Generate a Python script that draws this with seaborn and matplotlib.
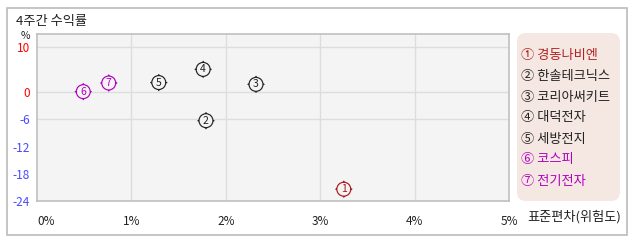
import numpy as np
import pandas as pd
import matplotlib
matplotlib.use("Agg")
import matplotlib.pyplot as plt
import seaborn as sns
from matplotlib.path import Path
from matplotlib.patches import FancyBboxPatch, Rectangle

# ---- data ----
names = ["경동나비엔", "한솔테크닉스", "코리아써키트", "대덕전자", "세방전지", "코스피", "전기전자"]
circled = ["①", "②", "③", "④", "⑤", "⑥", "⑦"]
risk = [3.25, 1.79, 2.32, 1.76, 1.29, 0.49, 0.76]      # 표준편차 (%)
ret = [-21.4, -6.3, 1.7, 5.0, 2.1, 0.1, 2.0]            # 4주간 수익률 (%)
colors = ["#A81818", "#222222", "#222222", "#222222", "#222222", "#B000C0", "#B000C0"]
xticks = [0, 1, 2, 3, 4, 5]
xticklabels = ["0%", "1%", "2%", "3%", "4%", "5%"]
yticks = [-24, -18, -12, -6, 0, 10]
yticklabels = ["-24", "-18", "-12", "-6", "0", "10"]

df = pd.DataFrame({"name": names, "risk": risk, "ret": ret})

sns.set_style("white")
plt.rcParams["font.family"] = ["Noto Sans CJK KR", "DejaVu Sans"]

W, H = 638, 242
fig = plt.figure(figsize=(W / 100, H / 100), dpi=100)

def fx(px):
    return px / W

def fy(py):
    return 1 - py / H

# outer frame
fig.patches.append(Rectangle((fx(6.5), fy(235)), fx(627) - fx(6.5), fy(7.5) - fy(235),
                             transform=fig.transFigure, fill=False,
                             edgecolor="#BBBBBB", linewidth=1.2))

ax = fig.add_axes([fx(37), fy(201), fx(509) - fx(37), fy(34) - fy(201)])
ax.set_facecolor("#F4F4F4")
ax.set_xlim(0, 5)
ax.set_ylim(-24, 12.8)

for v in [10, 0, -6]:
    ax.axhline(v, color="#DDDDDD", lw=1.0, zorder=0.5)
for v in [1, 2, 3, 4]:
    ax.axvline(v, color="#DDDDDD", lw=1.0, zorder=0.5)

# marker: circle with four short ticks
circle = Path.unit_circle()
ticks = Path([(0, 1), (0, 1.22), (0, -1), (0, -1.22), (1, 0), (1.22, 0), (-1, 0), (-1.22, 0)],
             [Path.MOVETO, Path.LINETO] * 4)
marker = Path.make_compound_path(circle, ticks)

palette = dict(zip(names, colors))
sns.scatterplot(data=df, x="risk", y="ret", hue="name", palette=palette,
                marker=marker, s=150, linewidth=0.85, legend=False, ax=ax, zorder=3)
coll = ax.collections[0]
fc = coll.get_facecolors()
coll.set_edgecolors(fc)
coll.set_facecolors("#F4F4F4")

for i, (x, y) in enumerate(zip(risk, ret)):
    ax.text(x, y, str(i + 1), ha="center", va="center", fontsize=7.5,
            color=colors[i], zorder=4)

ax.set_xlabel("")
ax.set_ylabel("")
ax.set_xticks(xticks)
ax.set_xticklabels(xticklabels, fontsize=8.5, color="#222222")
ax.set_yticks(yticks)
ax.set_yticklabels(yticklabels, fontsize=8.5)
ax.tick_params(axis="x", length=0, pad=10)
ax.tick_params(axis="y", length=0, pad=5)
ax.get_xticklabels()[0].set_ha("left")
for lab, v in zip(ax.get_yticklabels(), yticks):
    lab.set_color("#FF0000" if v >= 0 else "#4848FF")
for sp in ax.spines.values():
    sp.set_color("#BBBBBB")
    sp.set_linewidth(1.1)

# texts
fig.text(fx(16), fy(21), "4주간 수익률", fontsize=9.5, color="#222222", ha="left", va="center")
fig.text(fx(25), fy(36), "%", fontsize=7.5, color="#222222", ha="center", va="center")
fig.text(fx(621), fy(217), "표준편차(위험도)", fontsize=9.5, color="#222222", ha="right", va="center")

# legend panel
fig.patches.append(FancyBboxPatch((fx(517), fy(201)), fx(620) - fx(517), fy(33) - fy(201),
                                  boxstyle="round,pad=0,rounding_size=0.014",
                                  transform=fig.transFigure, facecolor="#F5E8E2",
                                  edgecolor="none", mutation_aspect=W / H))
leg_y = [55, 76.5, 97.5, 118, 139, 160, 181]
for i in range(len(names)):
    fig.text(fx(521), fy(leg_y[i]), circled[i] + " " + names[i], fontsize=9.5,
             color=colors[i] if i != 0 else "#B22222", ha="left", va="center")

fig.savefig("out.png", dpi=100)
